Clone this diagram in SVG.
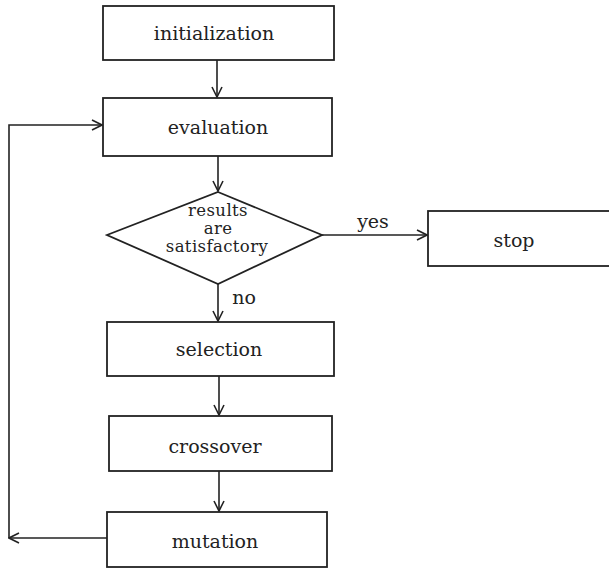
<svg xmlns="http://www.w3.org/2000/svg" width="609" height="570" viewBox="0 0 609 570">
  <style>
    .box { fill: #ffffff; stroke: #222; stroke-width: 1.8; }
    .edge { fill: none; stroke: #222; stroke-width: 1.6; }
    .lbl { font-family: "DejaVu Serif", "Liberation Serif", serif; font-size: 19px; fill: #222; text-anchor: middle; }
    .dec { font-size: 16.5px; letter-spacing: 0.4px; }
  </style>
  <defs>
    <marker id="arrow" viewBox="0 0 12 12" refX="11" refY="6" markerWidth="12" markerHeight="12" markerUnits="userSpaceOnUse" orient="auto">
      <polyline points="1,1 11,6 1,11" fill="none" stroke="#222" stroke-width="1.6"/>
    </marker>
  </defs>
  <rect width="609" height="570" fill="#ffffff"/>

  <g id="connectors">
    <path class="edge" d="M217,60 V97" marker-end="url(#arrow)"/>
    <path class="edge" d="M218,156 V191" marker-end="url(#arrow)"/>
    <path class="edge" d="M218,284 V321" marker-end="url(#arrow)"/>
    <path class="edge" d="M219,376 V415" marker-end="url(#arrow)"/>
    <path class="edge" d="M219,471 V511" marker-end="url(#arrow)"/>
    <path class="edge" d="M322,235 H427" marker-end="url(#arrow)"/>
    <path class="edge" d="M107,538 H9" marker-end="url(#arrow)"/>
    <path class="edge" d="M9,538 V125 H102" marker-end="url(#arrow)"/>
    <text class="lbl" x="373" y="228">yes</text>
    <text class="lbl" x="244" y="304">no</text>
  </g>

  <g id="initialization">
    <rect class="box" x="103" y="6" width="231" height="54"/>
    <text class="lbl" x="214" y="40">initialization</text>
  </g>
  <g id="evaluation">
    <rect class="box" x="103" y="98" width="229" height="58"/>
    <text class="lbl" x="218" y="134">evaluation</text>
  </g>
  <g id="decision">
    <polygon class="box" points="218,192 322,235 218,284 107,235"/>
    <text class="lbl dec" x="218" y="216">results</text>
    <text class="lbl dec" x="218" y="234">are</text>
    <text class="lbl dec" x="217" y="252">satisfactory</text>
  </g>
  <g id="stop">
    <rect class="box" x="428" y="211" width="190" height="55"/>
    <text class="lbl" x="514" y="247">stop</text>
  </g>
  <g id="selection">
    <rect class="box" x="107" y="322" width="227" height="54"/>
    <text class="lbl" x="219" y="356">selection</text>
  </g>
  <g id="crossover">
    <rect class="box" x="109" y="416" width="223" height="55"/>
    <text class="lbl" x="215" y="453">crossover</text>
  </g>
  <g id="mutation">
    <rect class="box" x="107" y="512" width="220" height="55"/>
    <text class="lbl" x="215" y="548">mutation</text>
  </g>
</svg>
